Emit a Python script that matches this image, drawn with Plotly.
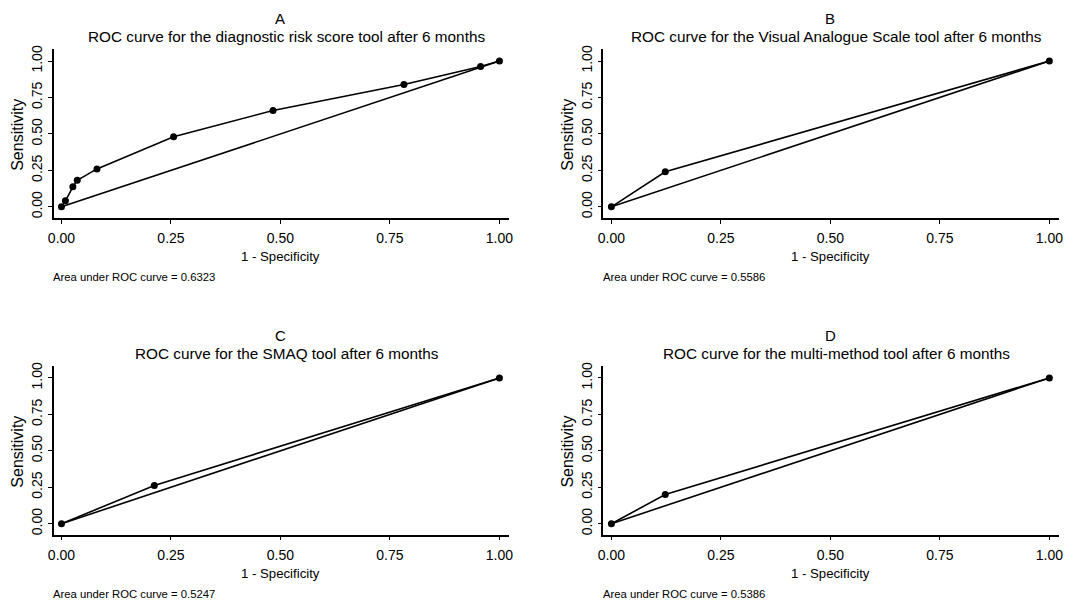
import plotly.graph_objects as go

W, H = 1091, 609

# ---------------- data ----------------
panel_letters = ["A", "B", "C", "D"]
panel_titles = [
    "ROC curve for the diagnostic risk score tool after 6 months",
    "ROC curve for the Visual Analogue Scale tool after 6 months",
    "ROC curve for the SMAQ tool after 6 months",
    "ROC curve for the multi-method tool after 6 months",
]
auc_labels = [
    "Area under ROC curve = 0.6323",
    "Area under ROC curve = 0.5586",
    "Area under ROC curve = 0.5247",
    "Area under ROC curve = 0.5386",
]
fpr_A = [0.0, 0.009, 0.026, 0.036, 0.081, 0.256, 0.483, 0.782, 0.957, 1.0]
sens_A = [0.0, 0.041, 0.137, 0.182, 0.260, 0.480, 0.661, 0.839, 0.962, 1.0]
fpr_B = [0.0, 0.123, 1.0]
sens_B = [0.0, 0.240, 1.0]
fpr_C = [0.0, 0.212, 1.0]
sens_C = [0.0, 0.262, 1.0]
fpr_D = [0.0, 0.123, 1.0]
sens_D = [0.0, 0.200, 1.0]
ref_x = [0.0, 1.0]
ref_y = [0.0, 1.0]
tick_vals = [0.0, 0.25, 0.5, 0.75, 1.0]
tick_text = ["0.00", "0.25", "0.50", "0.75", "1.00"]
x_title = "1 - Specificity"
y_title = "Sensitivity"

series = [(fpr_A, sens_A), (fpr_B, sens_B), (fpr_C, sens_C), (fpr_D, sens_D)]

# ---------------- geometry (pixels) ----------------
FONT = "Liberation Sans, Arial, sans-serif"
col_off = [-4, 551, -4, 551]
row_off = [0, 0, 319.5, 319.5]
AX_L, X0, X1, AX_R = 52, 60, 502, 512
AX_T, Y1, Y0, AX_B = 45.5, 57.5, 204.5, 215.5
xpu = (X1 - X0)
ypu = (Y0 - Y1)
xr = [(AX_L - X0) / xpu, (AX_R - X0) / xpu]
yr = [(Y0 - AX_B) / ypu, (Y0 - AX_T) / ypu]

def px(x):
    return x / W

def py(y):
    return 1 - y / H

fig = go.Figure()
annotations = []
layout_axes = {}

for i in range(4):
    n = "" if i == 0 else str(i + 1)
    xa, ya = "x" + n, "y" + n
    cx, cy = col_off[i], row_off[i]
    fx, fy = series[i]
    fig.add_trace(go.Scatter(x=fx, y=fy, mode="lines+markers", xaxis=xa, yaxis=ya,
                             line=dict(color="black", width=1.6),
                             marker=dict(color="black", size=7), showlegend=False,
                             cliponaxis=False))
    fig.add_trace(go.Scatter(x=ref_x, y=ref_y, mode="lines", xaxis=xa, yaxis=ya,
                             line=dict(color="black", width=1.6), showlegend=False,
                             cliponaxis=False))
    common = dict(showgrid=False, zeroline=False, showline=True, linecolor="black",
                  linewidth=1.6, ticks="outside", ticklen=4, tickwidth=1.3,
                  tickcolor="black", tickvals=tick_vals, ticktext=tick_text,
                  tickfont=dict(family=FONT, size=14, color="black"))
    layout_axes["xaxis" + n] = dict(common, domain=[px(cx + AX_L), px(cx + AX_R)],
                                    range=xr, anchor=ya, ticklabelstandoff=3)
    layout_axes["yaxis" + n] = dict(common, domain=[py(cy + AX_B), py(cy + AX_T)],
                                    range=yr, anchor=xa, tickangle=-90)
    mid = cx + (X0 + X1) / 2
    annotations.append(dict(text=panel_letters[i], x=px(mid), y=py(cy + 14.5),
                            font=dict(family=FONT, size=15, color="black")))
    annotations.append(dict(text=panel_titles[i], x=px(mid + 6.5), y=py(cy + 32.5),
                            font=dict(family=FONT, size=15.3, color="black")))
    annotations.append(dict(text=x_title, x=px(mid), y=py(cy + 254.5),
                            font=dict(family=FONT, size=13.2, color="black")))
    annotations.append(dict(text=y_title, x=px(cx + 16), y=py(cy + (Y0 + Y1) / 2 + 1),
                            textangle=-90,
                            font=dict(family=FONT, size=16, color="black")))
    annotations.append(dict(text=auc_labels[i], x=px(cx + 49), y=py(cy + 275.5),
                            xanchor="left",
                            font=dict(family=FONT, size=11.3, color="black")))

for a in annotations:
    a.update(xref="paper", yref="paper", showarrow=False)
    a.setdefault("xanchor", "center")
    a.setdefault("yanchor", "middle")

fig.update_layout(width=W, height=H, margin=dict(l=0, r=0, t=0, b=0),
                  paper_bgcolor="white", plot_bgcolor="white",
                  annotations=annotations, **layout_axes)

fig.write_html(
    "out.html",
    config={"displayModeBar": False},
    post_script=(
        "document.documentElement.style.margin='0';"
        "document.body.style.margin='0';document.body.style.padding='0';"
        "var d=document.getElementById('{plot_id}');"
        "d.style.position='absolute';d.style.left='0px';d.style.top='0px';"
    ),
)
